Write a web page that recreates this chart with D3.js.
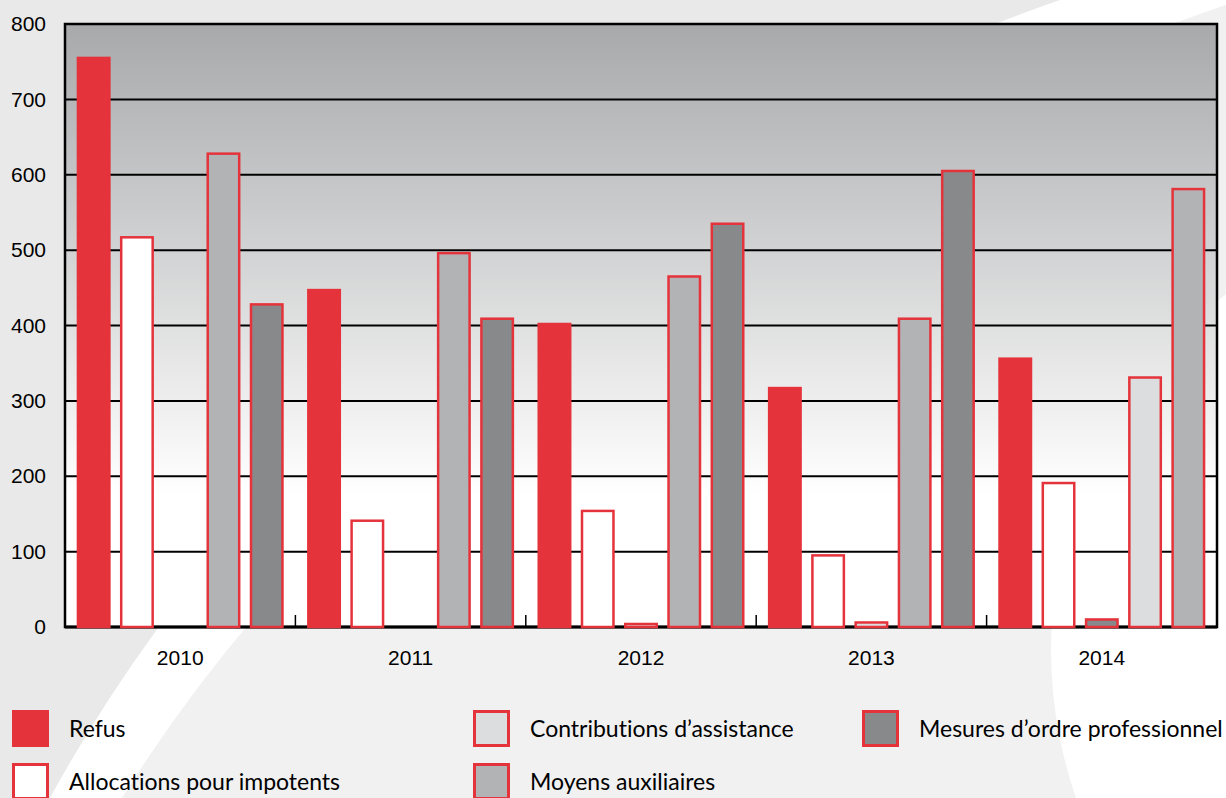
<!DOCTYPE html>
<html>
<head>
<meta charset="utf-8">
<script src="https://cdn.jsdelivr.net/npm/d3@7"></script>
<style>
  body { margin: 0; background: #f1f1f1; }
  svg { display: block; font-family: "Gill Sans", Lato, "Open Sans", sans-serif; font-variant-ligatures: none; }
</style>
</head>
<body>
<svg id="chart" width="1226" height="798"></svg>
<script>
// data
const years = ["2010", "2011", "2012", "2013", "2014"];
const seriesNames = ["Refus", "Allocations pour impotents", "Contributions d’assistance", "Moyens auxiliaires", "Mesures d’ordre professionnel"];
const refus = [755, 447, 402, 317, 356];
const allocations = [517, 141, 154, 95, 191];
const contributions = [0, 0, 4, 6, 331];
const moyens = [628, 496, 465, 409, 581];
const mesures = [428, 409, 535, 605, 10];
// which series sits in which slot of a year group (2014 is drawn in another order)
const slotOrder = [[0, 1, 2, 3, 4], [0, 1, 2, 3, 4], [0, 1, 2, 3, 4], [0, 1, 2, 3, 4], [0, 1, 4, 2, 3]];
const yTicks = [0, 100, 200, 300, 400, 500, 600, 700, 800];

const values = [refus, allocations, contributions, moyens, mesures];
const fills = ["#e5333b", "#ffffff", "#dcdddf", "#b2b3b5", "#88898b"];
const red = "#e5333b";

const svg = d3.select("#chart");
const margin = { top: 24, right: 9, bottom: 171, left: 65 };
const width = 1226 - margin.left - margin.right;
const height = 798 - margin.top - margin.bottom;

// background swooshes
const defs = svg.append("defs");
svg.append("rect").attr("width", 1226).attr("height", 798).attr("fill", "#f1f1f1");
svg.append("path")
  .attr("d", "M0,0 L1060,0 Q350,250 50,798 L0,798 Z")
  .attr("fill", "#e9e9e9");
svg.append("path")
  .attr("d", "M50,798 Q350,250 1060,0 L1240,0 Q450,270 122,798 Z")
  .attr("fill", "#ffffff");
svg.append("circle").attr("cx", 1500).attr("cy", 650).attr("r", 449).attr("fill", "#ffffff");

const grad = defs.append("linearGradient").attr("id", "bg").attr("x1", 0).attr("y1", 0).attr("x2", 0).attr("y2", 1);
grad.append("stop").attr("offset", "0%").attr("stop-color", "#a8a9ab");
grad.append("stop").attr("offset", "78%").attr("stop-color", "#ffffff");
grad.append("stop").attr("offset", "100%").attr("stop-color", "#ffffff");

const g = svg.append("g").attr("transform", "translate(" + margin.left + "," + margin.top + ")");

g.append("rect").attr("width", width).attr("height", height).attr("fill", "url(#bg)");

const x0 = d3.scaleBand().domain(years).range([0, width]);
const x1 = d3.scaleBand().domain(d3.range(5)).range([0, x0.bandwidth()])
  .paddingInner(0.215).paddingOuter(0.27);
const y = d3.scaleLinear().domain([0, 800]).range([height, 0]);

// gridlines
g.append("g").selectAll("line").data(yTicks.slice(1, -1)).join("line")
  .attr("x1", 0).attr("x2", width)
  .attr("y1", d => y(d)).attr("y2", d => y(d))
  .attr("stroke", "#000").attr("stroke-width", 2);

// y axis labels
const yAxis = g.append("g").call(d3.axisLeft(y).tickValues(yTicks).tickSize(0).tickPadding(19));
yAxis.select(".domain").remove();
yAxis.selectAll("text").attr("font-size", 21).attr("fill", "#000").attr("font-family", null);

// x axis: baseline, small ticks between groups, year labels
const xAxis = g.append("g").attr("transform", "translate(0," + height + ")")
  .call(d3.axisBottom(x0).tickSize(0).tickPadding(23));
xAxis.select(".domain").remove();
xAxis.selectAll("text").attr("font-size", 21).attr("fill", "#000").attr("font-family", null);
g.append("g").selectAll("line").data(years.slice(1)).join("line")
  .attr("x1", d => x0(d)).attr("x2", d => x0(d))
  .attr("y1", height).attr("y2", height - 12)
  .attr("stroke", "#000").attr("stroke-width", 1.5);

// plot frame
g.append("rect").attr("width", width).attr("height", height)
  .attr("fill", "none").attr("stroke", "#000").attr("stroke-width", 2.5);
g.append("line").attr("x1", 0).attr("x2", width).attr("y1", height).attr("y2", height)
  .attr("stroke", "#000").attr("stroke-width", 3);

// bars
const bars = [];
years.forEach((yr, i) => {
  slotOrder[i].forEach((s, slot) => {
    bars.push({ year: yr, slot: slot, series: s, value: values[s][i] });
  });
});
g.append("g").selectAll("rect").data(bars.filter(d => d.value > 0)).join("rect")
  .attr("x", d => x0(d.year) + x1(d.slot) + 1.25)
  .attr("width", x1.bandwidth() - 2.5)
  .attr("y", d => y(d.value))
  .attr("height", d => height - y(d.value))
  .attr("fill", d => fills[d.series])
  .attr("stroke", red).attr("stroke-width", 2.5);

// legend
const legendPos = [[12, 710], [12, 763], [473, 710], [473, 763], [862, 710]];
const legend = svg.append("g").selectAll("g").data(seriesNames).join("g")
  .attr("transform", (d, i) => "translate(" + legendPos[i][0] + "," + legendPos[i][1] + ")");
legend.append("rect").attr("x", 1.5).attr("y", 1.5).attr("width", 34).attr("height", 34)
  .attr("fill", (d, i) => fills[i]).attr("stroke", red).attr("stroke-width", 3);
legend.append("text").attr("x", 57).attr("y", 27).attr("font-size", 23).attr("fill", "#000")
  .text(d => d);
</script>
</body>
</html>
